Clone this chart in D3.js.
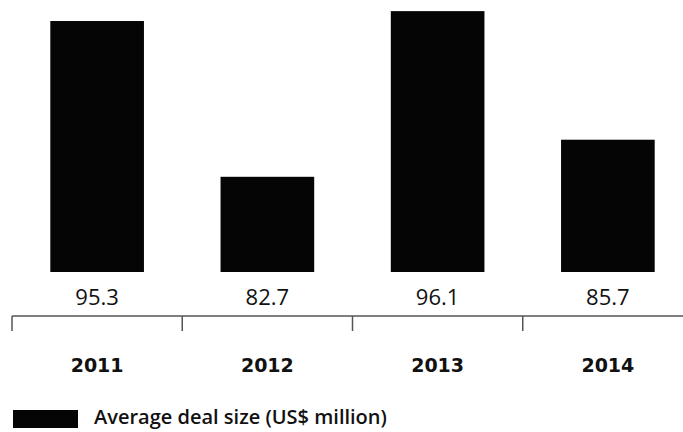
<!DOCTYPE html>
<html>
<head>
<meta charset="utf-8">
<script src="https://cdn.jsdelivr.net/npm/d3@7"></script>
<style>
  body { margin: 0; background: #fff; }
  svg { display: block; }
</style>
</head>
<body>
<div id="chart"></div>
<script>
// data
const years = ["2011", "2012", "2013", "2014"]
const dealSize = [95.3, 82.7, 96.1, 85.7]
const legendLabel = "Average deal size (US$ million)"

const width = 683, height = 432

const svg = d3.select("#chart").append("svg")
    .attr("width", width)
    .attr("height", height)

let x = d3.scaleBand()
    .domain(years)
    .range([12, 693])
    .paddingInner(0.45)
    .paddingOuter(0.225)

// bars don't start at zero, baseline sits at 75
let y = d3.scaleLinear()
    .domain([75, 97])
    .range([272, 0])

let rows = years.map((yr, i) => ({year: yr, value: dealSize[i]}))

svg.selectAll("rect.bar")
    .data(rows)
    .join("rect")
    .attr("class", "bar")
    .attr("x", d => x(d.year))
    .attr("y", d => y(d.value))
    .attr("width", x.bandwidth())
    .attr("height", d => y.range()[0] - y(d.value))
    .attr("fill", "#050505")

// value labels under each bar
svg.selectAll("text.val")
    .data(rows)
    .join("text")
    .attr("class", "val")
    .attr("x", d => x(d.year) + x.bandwidth() / 2)
    .attr("y", 305)
    .attr("text-anchor", "middle")
    .style("font-family", "'Open Sans', sans-serif")
    .style("font-size", "22px")
    .style("fill", "#111")
    .text(d => d.value.toFixed(1))

// axis line with ticks at the category boundaries
let axisY = 316
svg.append("line")
    .attr("x1", 12).attr("x2", width)
    .attr("y1", axisY).attr("y2", axisY)
    .attr("stroke", "#555").attr("stroke-width", 1.5)

svg.selectAll("line.tick")
    .data(years)
    .join("line")
    .attr("class", "tick")
    .attr("x1", d => x(d) - x.step() * x.paddingOuter())
    .attr("x2", d => x(d) - x.step() * x.paddingOuter())
    .attr("y1", axisY).attr("y2", axisY + 15)
    .attr("stroke", "#555").attr("stroke-width", 1.5)

svg.selectAll("text.year")
    .data(years)
    .join("text")
    .attr("class", "year")
    .attr("x", d => x(d) + x.bandwidth() / 2)
    .attr("y", 372)
    .attr("text-anchor", "middle")
    .style("font-family", "'DejaVu Sans', sans-serif")
    .style("font-weight", "bold")
    .style("font-size", "19px")
    .style("fill", "#111")
    .text(d => d)

// legend
svg.append("rect")
    .attr("x", 13).attr("y", 410)
    .attr("width", 65).attr("height", 18)
    .attr("fill", "#050505")
svg.append("text")
    .attr("x", 94).attr("y", 424)
    .style("font-family", "'Open Sans', sans-serif")
    .style("font-weight", "600")
    .style("font-size", "20px")
    .style("fill", "#111")
    .text(legendLabel)
</script>
</body>
</html>
